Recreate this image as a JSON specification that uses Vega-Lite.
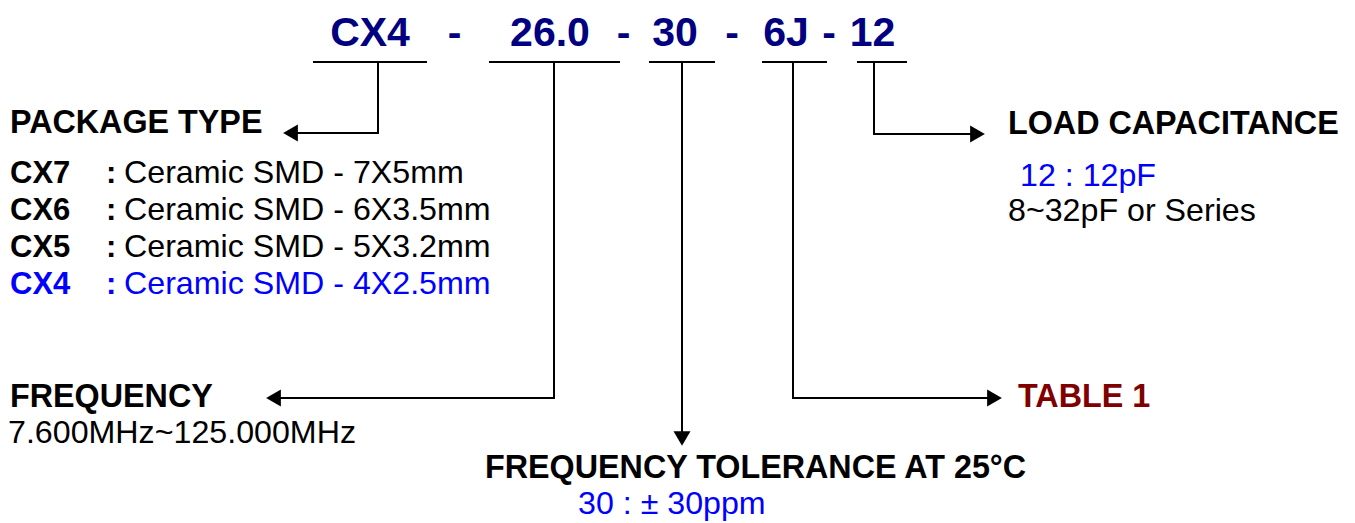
{
  "$schema": "https://vega.github.io/schema/vega-lite/v6.json",
  "width": 1355,
  "height": 523,
  "padding": 0,
  "autosize": {"type": "none"},
  "background": "white",
  "config": {"view": {"stroke": null}},
  "datasets": {
    "texts": [
      {"role": "title", "t": "CX4", "x": 370, "y": 46},
      {"role": "title", "t": "-", "x": 454.5, "y": 46},
      {"role": "title", "t": "26.0", "x": 550, "y": 46},
      {"role": "title", "t": "-", "x": 623.5, "y": 46},
      {"role": "title", "t": "30", "x": 675, "y": 46},
      {"role": "title", "t": "-", "x": 732, "y": 46},
      {"role": "title", "t": "6J", "x": 786, "y": 46},
      {"role": "title", "t": "-", "x": 829, "y": 46},
      {"role": "title", "t": "12", "x": 872.5, "y": 46},
      {"role": "header", "t": "PACKAGE TYPE", "x": 10, "y": 133},
      {"role": "header", "t": "FREQUENCY", "x": 10, "y": 407},
      {"role": "header", "t": "FREQUENCY TOLERANCE AT 25°C", "x": 485, "y": 478},
      {"role": "header", "t": "LOAD CAPACITANCE", "x": 1008, "y": 134},
      {"role": "table", "t": "TABLE 1", "x": 1018, "y": 407},
      {"role": "code", "t": "CX7", "x": 10, "y": 183},
      {"role": "code", "t": "CX6", "x": 10, "y": 220},
      {"role": "code", "t": "CX5", "x": 10, "y": 257},
      {"role": "codeblue", "t": "CX4", "x": 10, "y": 294},
      {"role": "code", "t": ":", "x": 106, "y": 183},
      {"role": "code", "t": ":", "x": 106, "y": 220},
      {"role": "code", "t": ":", "x": 106, "y": 257},
      {"role": "codeblue", "t": ":", "x": 106, "y": 294},
      {"role": "body", "t": "Ceramic SMD - 7X5mm", "x": 124, "y": 183},
      {"role": "body", "t": "Ceramic SMD - 6X3.5mm", "x": 124, "y": 220},
      {"role": "body", "t": "Ceramic SMD - 5X3.2mm", "x": 124, "y": 257},
      {"role": "bodyblue", "t": "Ceramic SMD - 4X2.5mm", "x": 124, "y": 294},
      {"role": "body", "t": "7.600MHz~125.000MHz", "x": 8, "y": 443},
      {"role": "body", "t": "8~32pF or Series", "x": 1008, "y": 221},
      {"role": "bodyblue", "t": "12 : 12pF", "x": 1020, "y": 186},
      {"role": "bodyblue", "t": "30 : ± 30ppm", "x": 578, "y": 514}
    ],
    "paths": [
      {"id": "u1", "seq": 1, "x": 313, "y": 62},
      {"id": "u1", "seq": 2, "x": 427, "y": 62},
      {"id": "u2", "seq": 1, "x": 489, "y": 62},
      {"id": "u2", "seq": 2, "x": 620, "y": 62},
      {"id": "u3", "seq": 1, "x": 649, "y": 62},
      {"id": "u3", "seq": 2, "x": 715, "y": 62},
      {"id": "u4", "seq": 1, "x": 762, "y": 62},
      {"id": "u4", "seq": 2, "x": 827, "y": 62},
      {"id": "u5", "seq": 1, "x": 857, "y": 62},
      {"id": "u5", "seq": 2, "x": 907, "y": 62},
      {"id": "c1", "seq": 1, "x": 378, "y": 62},
      {"id": "c1", "seq": 2, "x": 378, "y": 133},
      {"id": "c1", "seq": 3, "x": 292, "y": 133},
      {"id": "c2", "seq": 1, "x": 554, "y": 62},
      {"id": "c2", "seq": 2, "x": 554, "y": 398},
      {"id": "c2", "seq": 3, "x": 275, "y": 398},
      {"id": "c3", "seq": 1, "x": 682, "y": 62},
      {"id": "c3", "seq": 2, "x": 682, "y": 437},
      {"id": "c4", "seq": 1, "x": 793, "y": 62},
      {"id": "c4", "seq": 2, "x": 793, "y": 398},
      {"id": "c4", "seq": 3, "x": 993, "y": 398},
      {"id": "c5", "seq": 1, "x": 874, "y": 62},
      {"id": "c5", "seq": 2, "x": 874, "y": 134},
      {"id": "c5", "seq": 3, "x": 976, "y": 134}
    ],
    "arrows": [
      {"dir": "left", "x": 290.5, "y": 133},
      {"dir": "left", "x": 273.5, "y": 398},
      {"dir": "down", "x": 682, "y": 438.5},
      {"dir": "right", "x": 994.5, "y": 398},
      {"dir": "right", "x": 977.5, "y": 134}
    ]
  },
  "encoding": {
    "x": {"field": "x", "type": "quantitative", "scale": {"domain": [0, 1355], "nice": false, "zero": false}, "axis": null},
    "y": {"field": "y", "type": "quantitative", "scale": {"domain": [0, 523], "nice": false, "zero": false, "reverse": true}, "axis": null}
  },
  "layer": [
    {
      "data": {"name": "paths"},
      "mark": {"type": "line", "color": "black", "strokeWidth": 2, "strokeJoin": "miter", "strokeCap": "butt"},
      "encoding": {"detail": {"field": "id", "type": "nominal"}, "order": {"field": "seq", "type": "quantitative"}}
    },
    {
      "data": {"name": "arrows"},
      "mark": {"type": "point", "filled": true, "color": "black", "opacity": 1, "size": 289, "strokeWidth": 0},
      "encoding": {
        "shape": {"field": "dir", "type": "nominal", "scale": {"domain": ["left", "right", "down"], "range": ["triangle-left", "triangle-right", "triangle-down"]}, "legend": null}
      }
    },
    {
      "data": {"name": "texts"},
      "transform": [{"filter": "datum.role === 'title'"}],
      "mark": {"type": "text", "font": "Liberation Sans", "fontWeight": "bold", "fontSize": 41, "color": "#000080", "align": "center", "baseline": "alphabetic"},
      "encoding": {"text": {"field": "t"}}
    },
    {
      "data": {"name": "texts"},
      "transform": [{"filter": "datum.role === 'header'"}],
      "mark": {"type": "text", "font": "Liberation Sans", "fontWeight": "bold", "fontSize": 32.3, "color": "black", "align": "left", "baseline": "alphabetic"},
      "encoding": {"text": {"field": "t"}}
    },
    {
      "data": {"name": "texts"},
      "transform": [{"filter": "datum.role === 'table'"}],
      "mark": {"type": "text", "font": "Liberation Sans", "fontWeight": "bold", "fontSize": 32.3, "color": "#800000", "align": "left", "baseline": "alphabetic"},
      "encoding": {"text": {"field": "t"}}
    },
    {
      "data": {"name": "texts"},
      "transform": [{"filter": "datum.role === 'code'"}],
      "mark": {"type": "text", "font": "Liberation Sans", "fontWeight": "bold", "fontSize": 31, "color": "black", "align": "left", "baseline": "alphabetic"},
      "encoding": {"text": {"field": "t"}}
    },
    {
      "data": {"name": "texts"},
      "transform": [{"filter": "datum.role === 'codeblue'"}],
      "mark": {"type": "text", "font": "Liberation Sans", "fontWeight": "bold", "fontSize": 31, "color": "#0000FF", "align": "left", "baseline": "alphabetic"},
      "encoding": {"text": {"field": "t"}}
    },
    {
      "data": {"name": "texts"},
      "transform": [{"filter": "datum.role === 'body'"}],
      "mark": {"type": "text", "font": "Liberation Sans", "fontSize": 32.2, "color": "black", "align": "left", "baseline": "alphabetic"},
      "encoding": {"text": {"field": "t"}}
    },
    {
      "data": {"name": "texts"},
      "transform": [{"filter": "datum.role === 'bodyblue'"}],
      "mark": {"type": "text", "font": "Liberation Sans", "fontSize": 32.2, "color": "#0000FF", "align": "left", "baseline": "alphabetic"},
      "encoding": {"text": {"field": "t"}}
    }
  ]
}
